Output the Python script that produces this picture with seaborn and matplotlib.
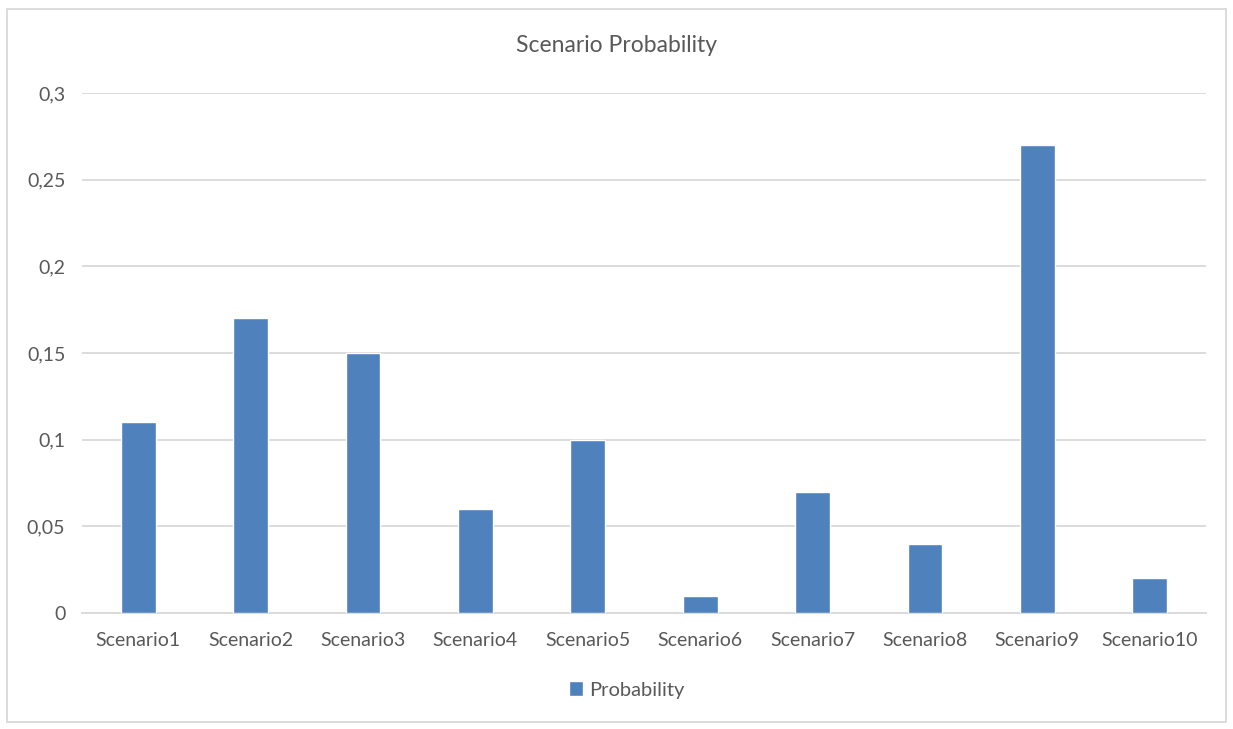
import matplotlib
matplotlib.use("Agg")
import matplotlib.pyplot as plt
from matplotlib.patches import Rectangle
import seaborn as sns
import pandas as pd

# data
scenarios = ["Scenario1", "Scenario2", "Scenario3", "Scenario4", "Scenario5",
             "Scenario6", "Scenario7", "Scenario8", "Scenario9", "Scenario10"]
probability = [0.11, 0.17, 0.15, 0.06, 0.10, 0.01, 0.07, 0.04, 0.27, 0.02]
y_ticks = [0, 0.05, 0.1, 0.15, 0.2, 0.25, 0.3]
y_tick_labels = ["0", "0,05", "0,1", "0,15", "0,2", "0,25", "0,3"]

df = pd.DataFrame({"scenario": scenarios, "Probability": probability})

sns.set_style("white")
plt.rcParams["font.family"] = ["Lato", "DejaVu Sans"]
txt = "#595959"
grid = "#D9D9D9"

fig = plt.figure(figsize=(12.33, 7.29), dpi=100)
ax = fig.add_axes([82 / 1233, 1 - 613 / 729, (1206 - 82) / 1233, (613 - 93) / 729])

sns.barplot(data=df, x="scenario", y="Probability", color="#4F81BD",
            width=0.31, saturation=1, ax=ax, label="Probability", zorder=3)

ax.set_ylim(0, 0.3)
ax.set_xlim(-0.5, len(scenarios) - 0.5)
ax.set_yticks(y_ticks)
ax.set_yticklabels(y_tick_labels)
ax.yaxis.grid(True, color=grid, linewidth=1.3, zorder=0)
ax.set_axisbelow(True)
for s in ["left", "right", "top"]:
    ax.spines[s].set_visible(False)
ax.spines["bottom"].set_color(grid)
ax.spines["bottom"].set_linewidth(1.3)
ax.tick_params(length=0, labelsize=14, labelcolor=txt, pad=12)
ax.tick_params(axis="x", pad=14)
ax.set_xlabel("")
ax.set_ylabel("")

fig.text(0.5, 1 - 46 / 729, "Scenario Probability", ha="center", va="center",
         fontsize=16.5, color=txt)

if ax.get_legend():
    ax.get_legend().remove()
handles, labels = ax.get_legend_handles_labels()
leg = fig.legend(handles, labels, loc="center", bbox_to_anchor=(0.508, 1 - 690 / 729),
                 frameon=False, fontsize=14.5, handlelength=0.7, handleheight=0.7,
                 handletextpad=0.3)
for t in leg.get_texts():
    t.set_color(txt)

fig.add_artist(Rectangle((7 / 1233, 7 / 729), 1219 / 1233, 713 / 729,
                         transform=fig.transFigure, fill=False,
                         edgecolor=grid, linewidth=1.3))

fig.savefig("out.png", dpi=100, facecolor="white")
